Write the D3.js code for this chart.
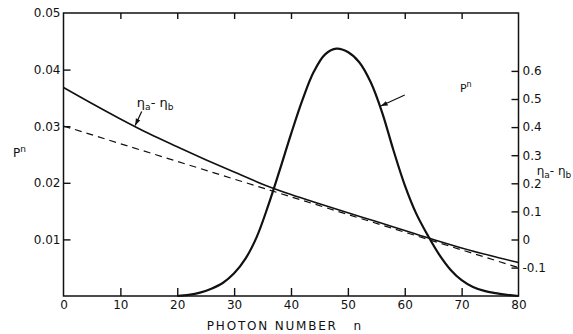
<!DOCTYPE html>
<html><head><meta charset="utf-8">
<script src="https://cdn.jsdelivr.net/npm/d3@7"></script>
<style>
html,body{margin:0;padding:0;background:#fff;}
text{font-family:"DejaVu Sans",sans-serif;fill:#111;}
</style></head>
<body>
<svg id="chart" width="573" height="334"></svg>
<script>
// ---- data ----
const pN = [20,22,24,26,28,30,32,34,36,38,40,42,44,46,48,50,52,54,56,58,60,62,64,66,68,70,72,74,76,78,80];
const pVal = [0,0.0002,0.0006,0.0013,0.0023,0.0040,0.0066,0.0105,0.0160,0.0222,0.0286,0.0346,0.0396,0.0427,0.0437,0.0431,0.0413,0.0378,0.0325,0.0258,0.0196,0.0146,0.0108,0.0074,0.0047,0.0028,0.0016,0.0009,0.0005,0.0002,0];
const etaN = [0,5,10,15,20,25,30,35,40,45,50,55,60,65,70,75,80];
const etaVal = [0.541,0.484,0.429,0.377,0.330,0.284,0.240,0.197,0.160,0.127,0.095,0.064,0.032,0.000,-0.030,-0.057,-0.082];
const dashN = [0,80];
const dashVal = [0.404,-0.100];
const xTicks = [0,10,20,30,40,50,60,70,80];
const leftTicks = [0.01,0.02,0.03,0.04,0.05];
const rightTicks = [-0.1,0,0.1,0.2,0.3,0.4,0.5,0.6];

const svg = d3.select("#chart");
const x = d3.scaleLinear().domain([0,80]).range([63.5,518.5]);
const yL = d3.scaleLinear().domain([0,0.05]).range([296,13]);
const yR = d3.scaleLinear().domain([-0.1,0.6]).range([267.6,70.9]);

// frame
svg.append("rect").attr("x",x(0)).attr("y",yL(0.05)).attr("width",x(80)-x(0)).attr("height",yL(0)-yL(0.05))
  .attr("fill","none").attr("stroke","#111").attr("stroke-width",1.5);

function styleAxis(g){
  g.select(".domain").remove();
  g.selectAll(".tick line").attr("stroke","#111").attr("stroke-width",1.4);
  g.selectAll(".tick text").style("font-family","DejaVu Sans, sans-serif").style("font-size","12px").attr("fill","#111");
}
// bottom
svg.append("g").attr("transform",`translate(0,${yL(0)})`)
  .call(d3.axisBottom(x).tickValues(xTicks).tickSize(-8).tickPadding(4).tickFormat(d=>d))
  .call(styleAxis)
  .call(g=>g.selectAll(".tick").filter(d=>d===0||d===80).select("line").remove());
// top
svg.append("g").attr("transform",`translate(0,${yL(0.05)})`)
  .call(d3.axisTop(x).tickValues(xTicks.slice(1,-1)).tickSize(-6).tickFormat(""))
  .call(styleAxis);
// left
svg.append("g").attr("transform",`translate(${x(0)},0)`)
  .call(d3.axisLeft(yL).tickValues(leftTicks).tickSize(-7).tickPadding(3).tickFormat(d3.format(".2f")))
  .call(styleAxis)
  .call(g=>g.selectAll(".tick").filter(d=>d===0.05).select("line").remove());
// right
svg.append("g").attr("transform",`translate(${x(80)},0)`)
  .call(d3.axisRight(yR).tickValues(rightTicks).tickSize(-7).tickPadding(4)
     .tickFormat(d=> d===0 ? "0" : (d<0?"-":"")+Math.abs(d).toFixed(1)))
  .call(styleAxis);

// curves
const lineP = d3.line().x((d,i)=>x(pN[i])).y(d=>yL(d)).curve(d3.curveCatmullRom.alpha(0.5));
svg.append("path").attr("d",lineP(pVal)).attr("fill","none").attr("stroke","#111").attr("stroke-width",2.2);

const lineE = d3.line().x((d,i)=>x(etaN[i])).y(d=>yR(d)).curve(d3.curveCatmullRom.alpha(0.5));
svg.append("path").attr("d",lineE(etaVal)).attr("fill","none").attr("stroke","#111").attr("stroke-width",1.6);

const lineD = d3.line().x((d,i)=>x(dashN[i])).y(d=>yR(d));
svg.append("path").attr("d",lineD(dashVal)).attr("fill","none").attr("stroke","#111").attr("stroke-width",1.2)
  .attr("stroke-dasharray","7,5");

// arrow marker
svg.append("defs").append("marker").attr("id","arr").attr("viewBox","0 0 10 10").attr("refX",10).attr("refY",5)
  .attr("markerWidth",7).attr("markerHeight",7).attr("orient","auto").attr("markerUnits","userSpaceOnUse")
  .append("path").attr("d","M0,1.5 L10,5 L0,8.5 Z").attr("fill","#111");

function interp(ns, vs, n){
  for(let i=0;i<ns.length-1;i++){ if(n>=ns[i]&&n<=ns[i+1]){const t=(n-ns[i])/(ns[i+1]-ns[i]);return vs[i]+t*(vs[i+1]-vs[i]);} }
  return vs[vs.length-1];
}
// eta annotation
const etaTipN = 12.6;
svg.append("line").attr("x1",x(13.75)).attr("y1",yL(0.0326)).attr("x2",x(etaTipN)).attr("y2",yR(interp(etaN,etaVal,etaTipN))-1)
  .attr("stroke","#111").attr("stroke-width",1.2).attr("marker-end","url(#arr)");
function etaLabel(xp, yp, size){
  const t = svg.append("text").attr("x",xp).attr("y",yp).style("font-size",size+"px");
  t.append("tspan").text("η");
  t.append("tspan").attr("dy",3).style("font-size","9px").text("a");
  t.append("tspan").attr("dy",-3).text("- η");
  t.append("tspan").attr("dy",3).style("font-size","9px").text("b");
}
etaLabel(x(12.9), yL(0.0334), 13);
etaLabel(x(83.2), yR(0.230), 12);

// P annotation
const pTipN = 55.6;
svg.append("line").attr("x1",x(60.0)).attr("y1",yL(0.0355)).attr("x2",x(pTipN)+1).attr("y2",yL(interp(pN,pVal,pTipN)))
  .attr("stroke","#111").attr("stroke-width",1.2).attr("marker-end","url(#arr)");
function pLabel(xp, yp, size){
  const t = svg.append("text").attr("x",xp).attr("y",yp).style("font-size",size+"px");
  t.append("tspan").text("P");
  t.append("tspan").attr("dy",-5).style("font-size",(size-3)+"px").text("n");
}
pLabel(x(69.7), yL(0.0360), 11);
pLabel(13, yL(0.0245), 12);

// x title
svg.append("text").attr("x",x(25.2)).attr("y",330).style("font-size","12px").style("letter-spacing","1.8px").text("PHOTON NUMBER");
svg.append("text").attr("x",x(51.0)).attr("y",330).style("font-size","12px").text("n");
</script>
</body></html>
